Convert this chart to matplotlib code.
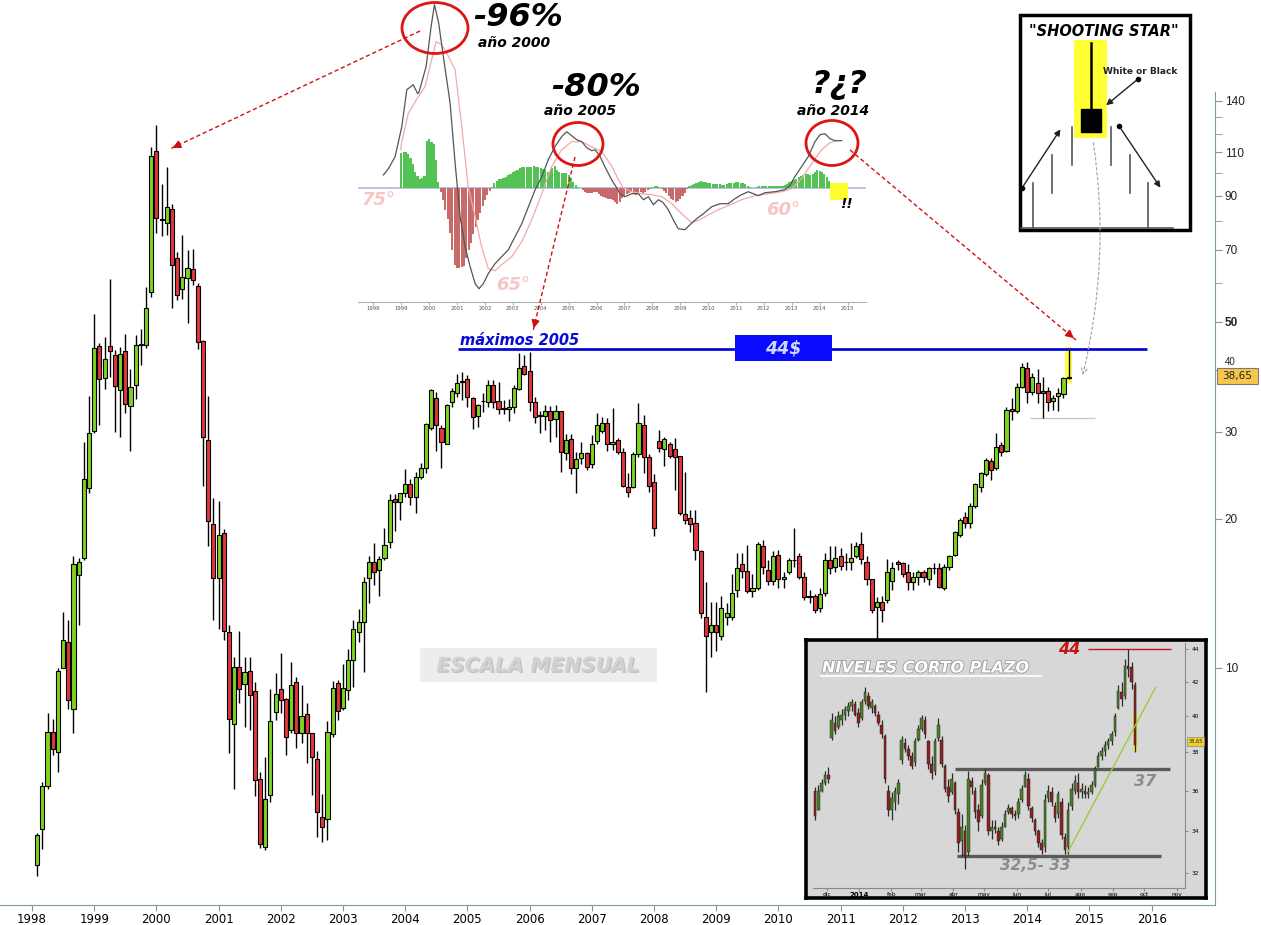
import numpy as np
import pandas as pd
import matplotlib
matplotlib.use('Agg')
import matplotlib.pyplot as plt
from matplotlib.patches import Rectangle, Ellipse, FancyArrowPatch
import matplotlib.patheffects as pe
import matplotlib.dates as mdates
from matplotlib.ticker import FixedLocator, FixedFormatter, NullFormatter

# ---------------- monthly OHLC (Feb 1998 .. Sep 2014) ----------------
m_start_year = 1998
m_start_month = 2
m_open = [
    4.0, 4.72, 5.78, 7.43, 6.76, 10.0, 11.3, 8.27, 15.4, 16.7,
    23.1, 30.1, 44.7, 38.5, 44.7, 42.9, 36.4, 43.7, 33.8, 37.3,
    45.0, 45.0, 57.5, 111.0, 80.6, 79.4, 84.6, 67.4, 58.3, 61.3,
    64.0, 59.0, 45.8, 28.9, 19.5, 15.2, 18.7, 11.8, 7.7, 10.05,
    9.3, 9.86, 9.0, 5.97, 4.35, 5.54, 8.15, 9.07, 8.66, 7.49,
    9.37, 7.39, 8.07, 7.39, 6.55, 5.0, 4.96, 7.36, 9.33, 8.3,
    9.03, 10.4, 11.8, 12.4, 15.2, 16.4, 15.8, 16.7, 18.0, 21.9,
    21.6, 22.6, 23.5, 22.2, 24.3, 25.3, 30.6, 35.1, 30.6, 28.4,
    34.5, 35.9, 37.9, 38.4, 35.1, 32.3, 34.6, 34.5, 37.3, 34.6,
    33.5, 33.3, 33.7, 36.6, 40.8, 39.8, 34.5, 32.3, 32.3, 33.1,
    31.8, 33.0, 27.2, 29.0, 25.3, 26.5, 27.2, 25.8, 28.8, 30.1,
    31.3, 28.4, 28.9, 27.3, 23.2, 23.2, 27.0, 31.0, 26.7, 23.7,
    28.7, 27.7, 28.3, 27.7, 26.8, 20.5, 20.1, 19.6, 17.2, 12.7,
    11.8, 12.2, 11.6, 12.7, 12.7, 14.4, 16.2, 15.7, 14.3, 14.5,
    17.6, 15.8, 15.0, 16.9, 15.1, 15.6, 16.5, 16.8, 15.3, 13.9,
    14.0, 13.2, 14.2, 16.5, 16.0, 16.8, 16.4, 16.4, 16.8, 17.8,
    16.4, 15.1, 13.3, 13.6, 13.7, 15.0, 16.4, 16.3, 15.6, 14.9,
    15.3, 15.6, 15.1, 15.9, 15.9, 14.5, 16.0, 16.9, 18.6, 20.2,
    19.6, 21.2, 23.2, 24.7, 26.2, 25.3, 28.2, 27.5, 33.3, 33.0,
    36.9, 40.4, 36.1, 37.7, 36.3, 36.3, 34.6, 35.4, 35.7, 38.5,
]
m_high = [
    4.65, 5.88, 8.1, 7.9, 10.0, 12.98, 12.5, 16.8, 16.7, 28.6,
    35.5, 52.0, 45.3, 46.7, 61.1, 43.9, 44.5, 47.3, 40.2, 47.0,
    48.4, 58.8, 112.6, 125.0, 95.0, 102.8, 86.4, 69.3, 75.1, 69.9,
    70.2, 60.0, 46.0, 35.4, 22.1, 21.7, 19.1, 12.2, 10.5, 11.9,
    10.5, 10.5, 9.37, 6.16, 6.6, 9.07, 9.77, 10.7, 8.7, 10.3,
    9.6, 9.25, 8.5, 7.4, 6.8, 5.56, 7.8, 9.4, 9.46, 10.2,
    10.9, 12.5, 13.15, 15.3, 16.8, 17.9, 16.8, 19.2, 22.5, 22.5,
    22.6, 25.2, 24.1, 24.9, 25.9, 31.3, 36.6, 36.1, 31.0, 34.1,
    36.8, 39.3, 39.6, 39.0, 35.2, 34.1, 35.9, 38.2, 38.2, 37.8,
    34.8, 35.0, 37.3, 43.3, 42.9, 43.5, 35.2, 33.0, 34.0, 33.9,
    34.0, 33.0, 29.7, 29.7, 27.3, 28.6, 27.3, 29.6, 32.7, 32.1,
    32.0, 33.5, 29.2, 27.8, 24.8, 27.3, 34.3, 32.4, 27.0, 24.6,
    30.3, 29.3, 28.6, 29.1, 26.8, 24.9, 20.9, 20.9, 17.3, 14.9,
    13.6, 13.6, 14.0, 13.5, 15.5, 17.1, 17.1, 17.7, 15.5, 18.0,
    18.1, 16.5, 17.2, 17.3, 15.6, 16.7, 19.2, 17.1, 15.6, 14.4,
    14.1, 14.5, 17.1, 17.6, 17.6, 17.5, 17.1, 17.9, 18.0, 18.8,
    16.8, 15.1, 13.9, 14.0, 16.6, 16.4, 16.5, 16.4, 16.2, 15.6,
    15.8, 15.8, 16.0, 16.3, 16.3, 16.2, 16.9, 18.9, 20.1, 20.7,
    21.5, 23.6, 24.9, 26.6, 26.6, 29.8, 28.6, 33.7, 35.1, 37.6,
    41.3, 41.5, 39.4, 40.2, 38.7, 37.0, 35.6, 36.8, 38.7, 44.0,
]
m_low = [
    3.8, 4.31, 5.7, 6.68, 6.16, 10.0, 8.27, 7.38, 12.2, 16.5,
    22.6, 29.9, 31.0, 36.6, 38.7, 30.0, 29.3, 32.7, 27.5, 35.0,
    40.9, 44.3, 56.2, 75.8, 74.7, 75.1, 53.4, 55.4, 55.6, 49.8,
    59.5, 44.1, 23.3, 17.6, 12.5, 12.0, 11.4, 6.73, 5.7, 8.5,
    7.6, 7.5, 5.5, 4.33, 4.29, 5.35, 7.85, 8.1, 6.68, 7.4,
    6.9, 7.05, 6.43, 5.54, 4.56, 4.45, 4.5, 7.25, 7.85, 8.23,
    8.62, 9.15, 11.3, 9.8, 13.5, 14.7, 14.0, 16.5, 17.5, 18.9,
    19.9, 22.2, 21.3, 20.6, 24.1, 24.8, 30.3, 27.5, 25.4, 28.3,
    33.7, 35.2, 34.8, 33.7, 30.4, 30.7, 32.9, 33.7, 33.5, 32.6,
    32.6, 31.6, 32.7, 36.4, 39.0, 33.0, 31.3, 29.9, 30.3, 28.6,
    29.3, 24.9, 26.3, 24.6, 22.6, 25.8, 25.1, 25.3, 28.3, 29.8,
    27.5, 27.6, 27.0, 23.2, 22.2, 23.1, 26.7, 24.8, 22.7, 18.5,
    27.3, 25.6, 26.5, 22.9, 20.4, 19.5, 18.8, 16.5, 12.6, 8.95,
    10.5, 10.8, 11.4, 12.2, 12.5, 13.9, 15.2, 14.2, 13.9, 14.4,
    15.5, 14.7, 14.7, 14.5, 14.5, 15.5, 16.0, 15.1, 13.7, 13.5,
    12.9, 13.0, 14.0, 15.5, 15.6, 15.8, 15.8, 15.8, 16.7, 16.2,
    14.7, 12.9, 11.1, 12.4, 13.5, 14.4, 15.8, 15.3, 14.4, 14.4,
    14.7, 14.9, 14.7, 15.5, 14.5, 14.4, 15.8, 16.8, 18.4, 19.2,
    19.2, 21.0, 22.7, 24.4, 24.0, 25.1, 26.8, 27.3, 31.7, 32.7,
    36.8, 34.3, 35.6, 34.3, 32.0, 33.0, 33.2, 33.0, 35.1, 38.3,
]
m_close = [
    4.6, 5.78, 7.43, 6.86, 9.86, 11.4, 8.6, 16.2, 16.4, 24.1,
    29.9, 44.3, 38.4, 42.1, 43.7, 37.1, 43.1, 34.1, 37.0, 45.0,
    45.2, 53.4, 108.4, 81.0, 80.4, 85.4, 65.2, 56.7, 61.6, 64.3,
    60.8, 45.6, 29.3, 19.8, 15.2, 18.6, 11.9, 7.88, 10.05, 9.07,
    9.8, 8.8, 5.94, 4.41, 5.43, 7.8, 8.86, 8.62, 7.25, 9.25,
    7.39, 8.0, 7.39, 6.6, 5.11, 4.77, 7.43, 9.1, 8.19, 9.1,
    10.4, 12.0, 12.4, 14.9, 16.4, 15.6, 16.6, 17.7, 21.8, 21.6,
    22.6, 23.5, 22.2, 24.3, 25.3, 31.1, 36.4, 30.9, 28.6, 34.0,
    36.3, 37.7, 38.0, 35.2, 32.2, 34.0, 34.7, 37.3, 34.5, 33.3,
    33.3, 33.7, 36.7, 40.4, 39.3, 34.5, 32.2, 32.4, 33.0, 31.7,
    33.1, 27.3, 28.9, 25.3, 26.4, 27.2, 25.5, 28.4, 31.0, 31.3,
    28.3, 28.6, 27.3, 23.3, 22.7, 27.0, 31.2, 26.7, 23.3, 19.2,
    27.8, 29.0, 26.8, 26.7, 20.6, 19.9, 19.5, 17.3, 12.9, 11.6,
    12.2, 11.8, 13.2, 12.9, 14.2, 15.9, 15.7, 14.3, 14.5, 17.8,
    16.0, 15.0, 16.8, 15.1, 15.3, 16.5, 16.5, 15.3, 13.9, 14.0,
    13.1, 14.1, 16.5, 15.9, 16.7, 16.1, 16.4, 16.7, 17.6, 16.6,
    15.1, 13.1, 13.6, 13.1, 15.6, 15.9, 16.2, 15.5, 14.9, 15.3,
    15.6, 15.3, 15.9, 15.9, 14.6, 16.0, 16.8, 18.8, 19.9, 19.6,
    21.2, 23.5, 24.8, 26.3, 25.1, 28.0, 27.3, 33.2, 33.0, 36.9,
    40.6, 36.1, 38.7, 35.9, 35.9, 34.5, 35.1, 35.9, 38.5, 38.65,
]
last_price = 38.65
year_ticks = list(range(1998, 2017))
price_ticks = [10, 20, 30, 40, 50, 70, 90, 110, 140]
price_minor = [60, 80, 100, 120, 130]
resistance = 44.0
support_main = 32.0

# ---------------- oscillator inset ----------------
macd_t = [1998.36, 1998.54, 1998.78, 1999.02, 1999.2, 1999.43, 1999.59, 1999.64, 1999.89, 2000.07,
          2000.19, 2000.34, 2000.5, 2000.75, 2000.93, 2001.11, 2001.29, 2001.47, 2001.65, 2001.79,
          2001.94, 2002.12, 2002.36, 2002.6, 2002.84, 2003.08, 2003.32, 2003.56, 2003.8, 2004.04,
          2004.27, 2004.51, 2004.75, 2004.93, 2005.11, 2005.29, 2005.47, 2005.65, 2005.83, 2005.95,
          2006.13, 2006.3, 2006.54, 2006.72, 2006.84, 2007.02, 2007.26, 2007.5, 2007.68, 2007.86,
          2008.04, 2008.22, 2008.39, 2008.57, 2008.75, 2008.93, 2009.17, 2009.35, 2009.59, 2009.83,
          2010.13, 2010.43, 2010.72, 2010.96, 2011.2, 2011.44, 2011.8, 2012.04, 2012.4, 2012.75,
          2012.93, 2013.11, 2013.35, 2013.59, 2013.83, 2014.01, 2014.19, 2014.37, 2014.55, 2014.79]
macd_v = [12.7, 19, 31, 61, 98, 103, 94, 96, 121, 161,
          183, 165, 133, 85, 25, -29, -59, -79, -96, -101,
          -96, -86, -76, -69, -62, -49, -36, -19, -2, 11,
          28, 41, 51, 56, 52, 48, 46, 40, 37, 38,
          31, 21, 8, 0, -6, -9, -6, -6, -12, -9,
          -17, -12, -15, -22, -32, -41, -42, -37, -31, -26,
          -19, -16, -16, -11, -7, -4, -8, -5, -4, -2,
          2, 11, 21, 31, 46, 53, 54, 49, 47, 47]
sig_t = [1998.98, 1999.02, 1999.25, 1999.61, 1999.85, 2000.09, 2000.25, 2000.45, 2000.62, 2000.93,
         2001.17, 2001.4, 2001.65, 2001.88, 2002.12, 2002.36, 2002.6, 2002.96, 2003.32, 2003.68,
         2004.04, 2004.39, 2004.75, 2005.11, 2005.47, 2005.83, 2006.19, 2006.54, 2006.75, 2006.95,
         2007.26, 2007.62, 2007.98, 2008.34, 2008.7, 2009.05, 2009.41, 2009.71, 2010.01, 2010.37,
         2010.72, 2011.2, 2011.68, 2012.16, 2012.64, 2013.0, 2013.35, 2013.71, 2014.07, 2014.37,
         2014.61]
sig_v = [38, 46, 74, 91, 101, 128, 146, 143, 135, 118,
         61, 1, -29, -59, -81, -83, -77, -69, -54, -32,
         -6, 21, 38, 46, 46, 41, 36, 22, 10, 0,
         -4, -6, -7, -9, -16, -26, -35, -32, -27, -22,
         -18, -12, -8, -6, -4, -1, 9, 24, 38, 45,
         47]
hist_start = 1999
hist_v = [35, 36, 36, 34, 30, 24, 16, 12, 9, 10, 12, 47,
          49, 46, 44, 28, 6, -4, -12, -22, -31, -45, -62, -77,
          -80, -80, -79, -78, -70, -62, -55, -46, -39, -32, -25, -18,
          -12, -7, -3, 1, 5, 7, 8.5, 9, 9.5, 11, 12.7, 14,
          15.5, 16.5, 18, 19.5, 20.5, 21, 21, 20.5, 21, 21.5, 21, 20.5,
          19.5, 18.5, 17.5, 16, 17, 19.5, 21.5, 18, 16, 15, 14.5, 14.4,
          13, 10, 6, 2.5, 0.5, 0, -2, -4, -5, -5.5, -5, -4.5,
          -4, -6, -8, -9, -10, -11, -11.5, -12, -14, -16, -14, -10,
          -8, -6, -5, -4, -6, -7, -5, -4, -6, -4, -2, -1,
          0.5, 1.5, 1.5, 0.5, -1, -3, -5, -8, -11, -12.5, -14, -13,
          -11, -8, -5, -1, 1.5, 3, 4, 5, 6, 6.5, 6, 5.5,
          5, 4.5, 4, 3.7, 3.7, 3.5, 3, 3, 4, 4.5, 5, 5,
          5.5, 5.5, 5, 4.5, 3.5, 2, 0.5, 0, 0, 1, 1.5, 1.5,
          1.5, 1.5, 1.5, 1.5, 1.5, 1.5, 1.5, 1.5, 2, 3, 4, 5.5,
          7, 8, 9, 10.5, 11.5, 12.5, 13.3, 13.3, 13, 14, 15.5, 17.5,
          17, 16, 14, 11, 7, 3, 1.5, 0.5, 0]
osc_years = list(range(1998, 2016))

# ---------------- short-term (daily) inset ----------------
d_first = '2013-11-20'
d_last = '2014-09-22'
d_open = [36.0, 35.0, 36.0, 36.4, 36.8, 38.8, 39.6, 39.4, 39.8, 40.1,
          40.3, 40.6, 40.7, 40.2, 39.9, 40.9, 41.2, 40.5, 40.6, 40.1,
          39.5, 38.9, 36.0, 35.0, 35.4, 35.8, 37.6, 38.5, 38.2, 37.8,
          37.5, 38.7, 39.3, 39.8, 38.6, 37.4, 37.0, 38.8, 38.7, 37.3,
          36.2, 35.9, 36.4, 34.9, 33.5, 34.0, 33.0, 36.5, 36.0, 35.0,
          34.7, 36.4, 36.8, 34.0, 34.2, 34.0, 33.6, 34.2, 34.9, 35.1,
          34.8, 34.8, 35.5, 36.2, 36.6, 35.1, 34.5, 34.0, 33.4, 33.2,
          35.6, 35.9, 35.2, 34.8, 35.4, 33.7, 33.2, 35.2, 36.0, 36.4,
          35.9, 36.0, 35.8, 35.9, 36.3, 37.2, 37.8, 38.1, 38.4, 38.6,
          39.1, 40.5, 41.4, 41.2, 43.0, 42.9, 41.8]
d_high = [36.2, 36.3, 36.6, 37.0, 37.2, 40.2, 40.0, 40.3, 40.4, 40.6,
          40.8, 41.0, 40.9, 40.5, 41.0, 41.7, 41.4, 41.0, 40.7, 40.3,
          39.8, 39.0, 36.3, 35.9, 36.2, 36.6, 38.9, 38.8, 38.4, 38.0,
          38.8, 39.5, 40.1, 40.0, 38.7, 37.8, 38.8, 39.9, 38.9, 37.4,
          36.6, 36.9, 36.5, 35.1, 34.8, 34.3, 37.0, 36.7, 36.2, 35.3,
          36.6, 37.1, 36.9, 34.5, 34.5, 34.2, 34.4, 35.0, 35.3, 35.2,
          35.0, 35.6, 36.3, 37.0, 36.9, 35.2, 34.6, 34.1, 33.6, 35.8,
          36.3, 36.2, 35.4, 36.0, 35.6, 33.9, 35.4, 36.4, 36.8, 36.9,
          36.4, 36.3, 36.2, 36.5, 37.3, 38.0, 38.3, 38.6, 38.8, 39.2,
          40.2, 41.8, 42.0, 43.4, 44.0, 43.2, 42.0]
d_low = [34.5, 35.0, 35.9, 36.3, 36.4, 38.7, 39.0, 39.3, 39.5, 39.8,
         40.0, 40.3, 40.0, 39.4, 39.8, 40.7, 40.4, 40.2, 40.0, 39.5,
         38.8, 36.4, 34.7, 34.5, 35.0, 35.3, 37.4, 38.0, 37.6, 37.1,
         37.3, 38.6, 39.2, 38.8, 37.1, 36.6, 36.8, 38.6, 37.2, 35.9,
         35.4, 35.8, 34.8, 33.0, 32.8, 32.2, 32.8, 35.8, 34.6, 34.0,
         34.6, 36.3, 33.8, 33.6, 33.9, 33.3, 33.5, 34.2, 34.8, 34.6,
         34.5, 34.6, 35.4, 36.2, 35.0, 34.4, 33.8, 33.2, 32.9, 33.0,
         35.4, 35.2, 34.4, 34.6, 33.6, 32.9, 32.9, 35.0, 35.8, 35.6,
         35.6, 35.6, 35.6, 35.8, 36.2, 37.2, 37.6, 37.8, 38.2, 38.4,
         38.9, 40.4, 40.6, 41.0, 42.3, 41.6, 38.0]
d_close = [34.7, 36.0, 36.4, 36.8, 36.6, 39.8, 39.2, 40.0, 40.1, 40.4,
           40.6, 40.8, 40.1, 39.6, 40.8, 41.4, 40.6, 40.8, 40.2, 39.6,
           39.0, 36.6, 35.0, 35.6, 36.0, 36.4, 38.7, 38.2, 37.8, 37.3,
           38.6, 39.3, 39.9, 39.0, 37.4, 36.9, 38.6, 39.5, 37.4, 36.1,
           35.7, 36.6, 35.0, 33.4, 34.2, 32.8, 36.6, 36.2, 34.9, 34.4,
           36.3, 36.9, 34.0, 34.2, 34.1, 33.5, 34.2, 34.8, 35.1, 34.8,
           34.7, 35.4, 36.1, 36.8, 35.2, 34.6, 34.0, 33.4, 33.1, 35.5,
           36.0, 35.4, 34.6, 35.8, 33.8, 33.1, 35.0, 36.1, 36.5, 35.9,
           36.1, 35.8, 35.9, 36.3, 37.1, 37.8, 38.1, 38.4, 38.6, 39.0,
           40.0, 41.5, 41.0, 43.0, 42.8, 42.0, 38.4]
st_ticks = [32, 34, 36, 38, 40, 42, 44]
st_months = ['2013-12-01', '2014-01-01', '2014-02-01', '2014-03-01', '2014-04-01', '2014-05-01',
             '2014-06-01', '2014-07-01', '2014-08-01', '2014-09-01', '2014-10-01', '2014-11-01']
st_month_labels = ['dic', '2014', 'feb', 'mar', 'abr', 'may', 'jun', 'jul', 'ago', 'sep', 'oct', 'nov']
lvl_high = 44.0
lvl_mid = 37.1
lvl_low = 32.8
trend_dates = ['2014-07-19', '2014-10-12']
trend_vals = [32.9, 41.7]

# ======================================================================
W, H = 1261, 925
fig = plt.figure(figsize=(W / 100, H / 100), dpi=100)
fig.patch.set_facecolor('white')


def fbox(x0, y0, x1, y1):
    return [x0 / W, 1 - y1 / H, (x1 - x0) / W, (y1 - y0) / H]


BI = dict(fontweight='bold', fontstyle='italic', family='DejaVu Sans')
axis_col = '#7a9c9c'

# ---------------- main chart ----------------
ax = fig.add_axes(fbox(0, 0, 1215, 905))
ax.set_yscale('log')
ax.set_xlim(1997.4855, 2017.019)
ax.set_ylim(3.32, 223.6)
n = len(m_close)
t = np.array([m_start_year + (m_start_month - 1 + i) / 12.0 for i in range(n)])
o = np.array(m_open); h = np.array(m_high); l = np.array(m_low); c = np.array(m_close)
up = c >= o
ax.vlines(t, l, h, color='black', lw=1.0, zorder=2)
bw = 0.066
ax.bar(t[up], (c - o)[up], bottom=o[up], width=bw, color='#7ed321', edgecolor='black', lw=0.8, zorder=3)
ax.bar(t[~up], (o - c)[~up], bottom=c[~up], width=bw, color='#e3353b', edgecolor='black', lw=0.8, zorder=3)

ax.hlines(resistance, 2004.85, 2015.93, color='#0a0ad8', lw=2, zorder=4)
ax.hlines(support_main, 2014.05, 2015.09, color='#c5ccc5', lw=1, zorder=1)
ax.add_patch(Rectangle((t[-1] - 0.055, 37.7), 0.11, 44.6 - 37.7, facecolor='#ffff40', edgecolor='none', zorder=1.5))

for s in ['left', 'top']:
    ax.spines[s].set_visible(False)
ax.spines['right'].set_color(axis_col)
ax.spines['bottom'].set_color(axis_col)
ax.spines['right'].set_bounds(3.32, 146)
ax.yaxis.tick_right()
ax.yaxis.set_major_locator(FixedLocator(price_ticks))
# the "40" label sits behind the last-price tag; it is drawn separately, peeking above it
ax.yaxis.set_major_formatter(FixedFormatter([('' if v == 40 else str(v)) for v in price_ticks]))
ax.yaxis.set_minor_locator(FixedLocator(price_minor))
ax.yaxis.set_minor_formatter(NullFormatter())
ax.tick_params(axis='y', which='both', direction='out', length=5, color=axis_col, pad=2,
               labelsize=8.5, labelcolor='#222')
for lab in ax.get_yticklabels():
    lab.set_family(['Liberation Sans', 'DejaVu Sans'])
    if lab.get_text() == '50':
        lab.set_fontweight('bold')
ax.set_xticks(year_ticks)
ax.set_xticklabels([str(y) for y in year_ticks], family=['Liberation Sans Narrow', 'DejaVu Sans'], fontsize=8.5)
ax.tick_params(axis='x', direction='out', length=4, color=axis_col, pad=2)
ax.patch.set_alpha(0)

# ---------------- oscillator inset ----------------
mi = fig.add_axes(fbox(358, 0, 866, 302))
mi.patch.set_alpha(0)
mi.set_xlim(1997.45, 2015.66)
mi.set_ylim(-114.3, 187.7)
ht = np.array([hist_start + i / 12.0 for i in range(len(hist_v))])
hv = np.array(hist_v, dtype=float)
mi.bar(ht[hv >= 0], hv[hv >= 0], width=0.075, color='#55c255', edgecolor='none', zorder=2)
mi.bar(ht[hv < 0], hv[hv < 0], width=0.075, color='#c96a6a', edgecolor='none', zorder=2)
mi.axhline(0, color='#b4b6ea', lw=1.2, zorder=1)
mi.plot(sig_t, sig_v, color='#f3a9a9', lw=0.9, zorder=3)
mi.plot(macd_t, macd_v, color='#555555', lw=0.9, zorder=4)
for s in ['left', 'top', 'right']:
    mi.spines[s].set_visible(False)
mi.spines['bottom'].set_color('#b0b0b0')
mi.set_yticks([])
mi.set_xticks(osc_years)
mi.set_xticklabels([str(y) for y in osc_years], fontsize=3.8, color='#555')
mi.tick_params(axis='x', length=2, color='#b0b0b0', pad=1)

# ---------------- short term inset ----------------
gp = fig.add_axes(fbox(806, 640, 1206, 898))
gp.set_facecolor('#d7d7d7')
gp.set_xticks([]); gp.set_yticks([])
for s in gp.spines.values():
    s.set_color('black'); s.set_linewidth(2.6)

ia = fig.add_axes(fbox(813, 643, 1185, 888))
ia.patch.set_alpha(0)
ia.set_yscale('log')
ia.set_ylim(31.34, 44.4)
ia.set_xlim(pd.Timestamp('2013-11-18'), pd.Timestamp('2014-11-09'))
dd = pd.date_range(d_first, d_last, periods=len(d_close))
do = np.array(d_open); dh = np.array(d_high); dl = np.array(d_low); dc = np.array(d_close)
dup = dc >= do
ia.vlines(dd, dl, dh, color='#2a2a2a', lw=0.9, zorder=3)
ia.bar(dd[dup], (dc - do)[dup], bottom=do[dup], width=2.4, color='#4a7f28', edgecolor='#1e1e1e', lw=0.3, zorder=4)
ia.bar(dd[~dup], (do - dc)[~dup], bottom=dc[~dup], width=2.4, color='#8a2222', edgecolor='#1e1e1e', lw=0.3, zorder=4)
ia.add_patch(Rectangle((mdates.date2num(pd.Timestamp('2014-09-20')), 38.0),
                       4.5, 40.2 - 38.0, facecolor='#f0e040', edgecolor='none', zorder=2))
ia.hlines(lvl_mid, pd.Timestamp('2014-04-03'), pd.Timestamp('2014-10-26'), color='#5a5a5a', lw=2.4, zorder=2)
ia.hlines(lvl_low, pd.Timestamp('2014-04-05'), pd.Timestamp('2014-10-17'), color='#5a5a5a', lw=2.4, zorder=2)
ia.hlines(lvl_high, pd.Timestamp('2014-08-08'), pd.Timestamp('2014-10-27'), color='#cc1111', lw=1.0, zorder=2)
ia.plot(pd.to_datetime(trend_dates), trend_vals, color='#9ccc3c', lw=1.0, zorder=5)
for s in ['left', 'top']:
    ia.spines[s].set_visible(False)
ia.spines['right'].set_color('#8a8a8a'); ia.spines['bottom'].set_color('#8a8a8a')
ia.yaxis.tick_right()
ia.yaxis.set_major_locator(FixedLocator(st_ticks))
ia.yaxis.set_major_formatter(FixedFormatter([str(v) for v in st_ticks]))
ia.yaxis.set_minor_locator(FixedLocator([]))
ia.tick_params(axis='y', which='both', length=2, labelsize=4.2, color='#8a8a8a', pad=3)
ia.set_xticks(pd.to_datetime(st_months))
ia.set_xticklabels(st_month_labels, fontsize=4.2)
ia.tick_params(axis='x', length=2, color='#8a8a8a', pad=1)
for lab in ia.get_xticklabels():
    if lab.get_text() == '2014':
        lab.set_fontweight('bold'); lab.set_fontsize(5)

# ---------------- overlay annotations (pixel coordinates) ----------------
ov = fig.add_axes([0, 0, 1, 1])
ov.set_xlim(0, W); ov.set_ylim(H, 0)
ov.axis('off')
ov.patch.set_alpha(0)

red = '#d01010'
for (cx, cy, ew, eh) in [(435, 28, 66, 51), (578, 144, 50, 43), (832, 143, 52, 45)]:
    ov.add_patch(Ellipse((cx, cy), ew, eh, fill=False, edgecolor='#dd1515', lw=2))

ov.text(518, 17, '-96%', fontsize=23, ha='center', va='center', color='black', **BI)
ov.text(514, 43, 'año 2000', fontsize=10, ha='center', va='center', color='black', **BI)
ov.text(596, 88, '-80%', fontsize=23, ha='center', va='center', color='black', **BI)
ov.text(580, 111, 'año 2005', fontsize=10, ha='center', va='center', color='black', **BI)
ov.text(840, 84, '?¿?', fontsize=23, ha='center', va='center', color='black', **BI)
ov.text(833, 111, 'año 2014', fontsize=10, ha='center', va='center', color='black', **BI)
pink = '#f6c6c6'
ov.text(379, 200, '75°', fontsize=13, ha='center', va='center', color=pink, **BI)
ov.text(513, 285, '65°', fontsize=13, ha='center', va='center', color=pink, **BI)
ov.text(783, 210, '60°', fontsize=13, ha='center', va='center', color=pink, **BI)
ov.add_patch(Rectangle((830, 183), 18, 17, facecolor='#ffff30', edgecolor='none', zorder=1))
ov.text(846, 204, '!!', fontsize=10, ha='center', va='center', color='black', **BI)


def dashed_arrow(p0, p1):
    ov.plot([p0[0], p1[0]], [p0[1], p1[1]], color=red, lw=1, ls=(0, (3, 2)))
    v = np.array(p1, float) - np.array(p0, float)
    v = v / np.hypot(*v)
    tail = np.array(p1) - v * 12
    ov.annotate('', xy=p1, xytext=tail,
                arrowprops=dict(arrowstyle='-|>', color=red, lw=1, mutation_scale=12))


dashed_arrow((420, 31), (170, 149))
dashed_arrow((575, 157), (533, 331))
dashed_arrow((850, 150), (1076, 340))

ov.text(460, 345, 'máximos 2005', fontsize=10.5, ha='left', va='baseline', color='#0a0ad8', **BI)
ov.add_patch(Rectangle((735, 335), 97, 26, facecolor='#0a0aff', edgecolor='none', zorder=5))
ov.text(783, 348, '44$', fontsize=12.5, ha='center', va='center', color='#cfd8ff', zorder=6, **BI)

ov.add_patch(Rectangle((420, 648), 237, 34, facecolor='#ededed', edgecolor='none'))
ov.text(538, 666, 'ESCALA MENSUAL', fontsize=14.5, ha='center', va='center', color='#d2d2d2',
        path_effects=[pe.withSimplePatchShadow(offset=(1, -1), shadow_rgbFace='#bdbdbd', alpha=0.9)], **BI)

# right price tag, with the partly hidden "40" label above it
ov.text(1225, 367, '40', fontsize=7, ha='left', va='bottom', color='#222',
        family=['Liberation Sans', 'DejaVu Sans'], zorder=4)
ov.add_patch(Rectangle((1217, 368), 41, 16, facecolor='#f7c64a', edgecolor='#7a7a7a', lw=0.8, zorder=5))
ov.text(1237.5, 376.5, '38,65', fontsize=7.5, ha='center', va='center', color='#222', zorder=6)

# shooting star box
ov.add_patch(Rectangle((1020, 15), 170, 215, facecolor='white', edgecolor='black', lw=2.5, zorder=2))
ov.text(1104, 31, '"SHOOTING STAR"', fontsize=10.5, ha='center', va='center', color='black', zorder=3, **BI)
ov.add_patch(Rectangle((1074, 40), 33, 98, facecolor='#ffff33', edgecolor='none', zorder=3))
ov.plot([1091, 1091], [43, 110], color='black', lw=1.8, zorder=4)
ov.add_patch(Rectangle((1081, 109), 20, 23, facecolor='black', edgecolor='black', zorder=4))
for (xx, y0, y1) in [(1033, 183, 228), (1052, 155, 193), (1072, 127, 165),
                     (1111, 127, 165), (1130, 155, 193), (1148, 183, 228)]:
    ov.plot([xx, xx], [y0, y1], color='#555', lw=1.2, zorder=3)
ov.plot([1021, 1173], [228, 228], color='#555', lw=1.2, zorder=3)
ov.text(1140, 71, 'White or Black', fontsize=6.5, ha='center', va='center', color='#222',
        fontweight='bold', zorder=4)
for (p0, p1) in [((1138, 79), (1104, 107)), ((1022, 188), (1062, 127)), ((1119, 126), (1162, 190))]:
    ov.plot(*p0, 'o', color='black', ms=3, zorder=5)
    ov.annotate('', xy=p1, xytext=p0, zorder=5,
                arrowprops=dict(arrowstyle='-|>', color='#222', lw=1, mutation_scale=9))
ov.add_patch(FancyArrowPatch((1093, 140), (1082, 378), connectionstyle='arc3,rad=-0.1',
                             arrowstyle='->', mutation_scale=10, color='#aaaaaa', lw=0.9,
                             linestyle=(0, (2, 2)), zorder=3))

ov.text(822, 668, 'NIVELES CORTO PLAZO', fontsize=11.5, ha='left', va='center', color='white',
        path_effects=[pe.withStroke(linewidth=1.2, foreground='#9a9a9a')], zorder=6, **BI)
ov.plot([821, 1041], [676, 676], color='white', lw=1.2, zorder=6)
ov.text(1069, 649, '44', fontsize=11.5, ha='center', va='center', color='#cc1111', zorder=6, **BI)
ov.text(1145, 781, '37', fontsize=11.5, ha='center', va='center', color='#8c8c8c', zorder=6, **BI)
ov.text(1035, 866, '32,5- 33', fontsize=11, ha='center', va='center', color='#8c8c8c', zorder=6, **BI)
ov.add_patch(Rectangle((1187, 737), 17, 9, facecolor='#f0d030', edgecolor='#888', lw=0.5, zorder=6))
ov.text(1195.5, 741.5, '38,65', fontsize=3.6, ha='center', va='center', color='#222', zorder=7)

fig.savefig('out.png', dpi=100, facecolor='white')
